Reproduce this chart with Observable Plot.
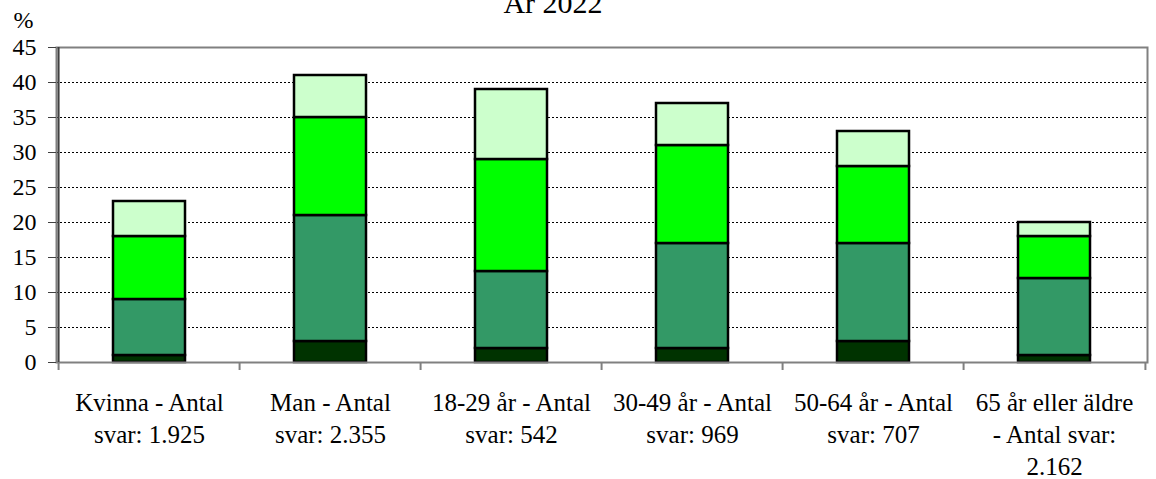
<!DOCTYPE html>
<html>
<head>
<meta charset="utf-8">
<script src="https://cdn.jsdelivr.net/npm/d3@7"></script>
<script src="https://cdn.jsdelivr.net/npm/@observablehq/plot@0.6"></script>
<style>
  body { margin: 0; background: #fff; }
  #chart svg { display: block; }
</style>
</head>
<body>
<div id="chart"></div>
<script>
// ---- data ----
const categories = ["Kvinna", "Man", "18-29 år", "30-49 år", "50-64 år", "65 år eller äldre"];
const tickLabels = [
  "Kvinna - Antal\nsvar: 1.925",
  "Man - Antal\nsvar: 2.355",
  "18-29 år - Antal\nsvar: 542",
  "30-49 år - Antal\nsvar: 969",
  "50-64 år - Antal\nsvar: 707",
  "65 år eller äldre\n- Antal svar:\n2.162"
];
const seriesNames = ["Serie 1", "Serie 2", "Serie 3", "Serie 4"];
const serie1 = [1, 3, 2, 2, 3, 1];
const serie2 = [8, 18, 11, 15, 14, 11];
const serie3 = [9, 14, 16, 14, 11, 6];
const serie4 = [5, 6, 10, 6, 5, 2];
const seriesColors = ["#003300", "#339966", "#00FF00", "#CCFFCC"];
const yTicks = [0, 5, 10, 15, 20, 25, 30, 35, 40, 45];
const gridTicks = [5, 10, 15, 20, 25, 30, 35, 40];
const titleText = "År 2022";
const yUnit = "%";

// ---- build tidy table ----
const seriesValues = [serie1, serie2, serie3, serie4];
const rows = [];
seriesNames.forEach((s, si) => {
  categories.forEach((c, ci) => {
    rows.push({category: c, series: s, value: seriesValues[si][ci]});
  });
});

const W = 1156, H = 479;
const mL = 56, mR = 9, mT = 47, mB = 117;
const step = (W - mL - mR) / categories.length;
const serifFont = "Liberation Serif";

const chart = Plot.plot({
  width: W,
  height: H,
  marginLeft: mL,
  marginRight: mR,
  marginTop: mT,
  marginBottom: mB,
  style: {fontFamily: serifFont, fontSize: "24px", color: "#000", background: "#fff"},
  x: {domain: categories, paddingInner: 0.6, paddingOuter: 0.3},
  y: {domain: [0, 45]},
  color: {domain: seriesNames, range: seriesColors},
  marks: [
    Plot.gridY(gridTicks, {stroke: "#000", strokeOpacity: 1, strokeWidth: 1, strokeDasharray: "2,2"}),
    Plot.barY(rows, {x: "category", y: "value", fill: "series", stroke: "#000", strokeWidth: 2.5, order: null}),
    Plot.frame({stroke: "#808080", strokeWidth: 2}),
    // left axis line (dark)
    Plot.ruleX([categories[0]], {x: (d) => d, dx: -step / 2, stroke: "#404040", strokeWidth: 2}),
    Plot.axisY(yTicks, {tickSize: 8, tickPadding: 12, fontSize: 24, fontFamily: serifFont, fontVariant: "normal", label: null, stroke: "#404040"}),
    Plot.axisX({
      tickSize: 0,
      tickPadding: 26,
      fontSize: 25,
      fontFamily: serifFont,
      fontVariant: "normal",
      lineHeight: 1.28,
      label: null,
      tickFormat: (d) => tickLabels[categories.indexOf(d)]
    }),
    // category boundary ticks below the axis
    Plot.ruleX(categories, {x: (d) => d, dx: -step / 2, y1: 0, y2: 0, insetBottom: -8, stroke: "#808080", strokeWidth: 2}),
    Plot.ruleX([categories[categories.length - 1]], {x: (d) => d, dx: step / 2, y1: 0, y2: 0, insetBottom: -8, stroke: "#808080", strokeWidth: 2}),
    Plot.text([titleText], {frameAnchor: "top", dx: -49, dy: -35, lineAnchor: "bottom", fontSize: 30, fontFamily: serifFont, fill: "#000"}),
    Plot.text([yUnit], {frameAnchor: "top-left", dx: -33, dy: -20, lineAnchor: "bottom", textAnchor: "middle", fontSize: 24, fontFamily: serifFont, fill: "#000"})
  ]
});

document.getElementById("chart").appendChild(chart);
</script>
</body>
</html>
